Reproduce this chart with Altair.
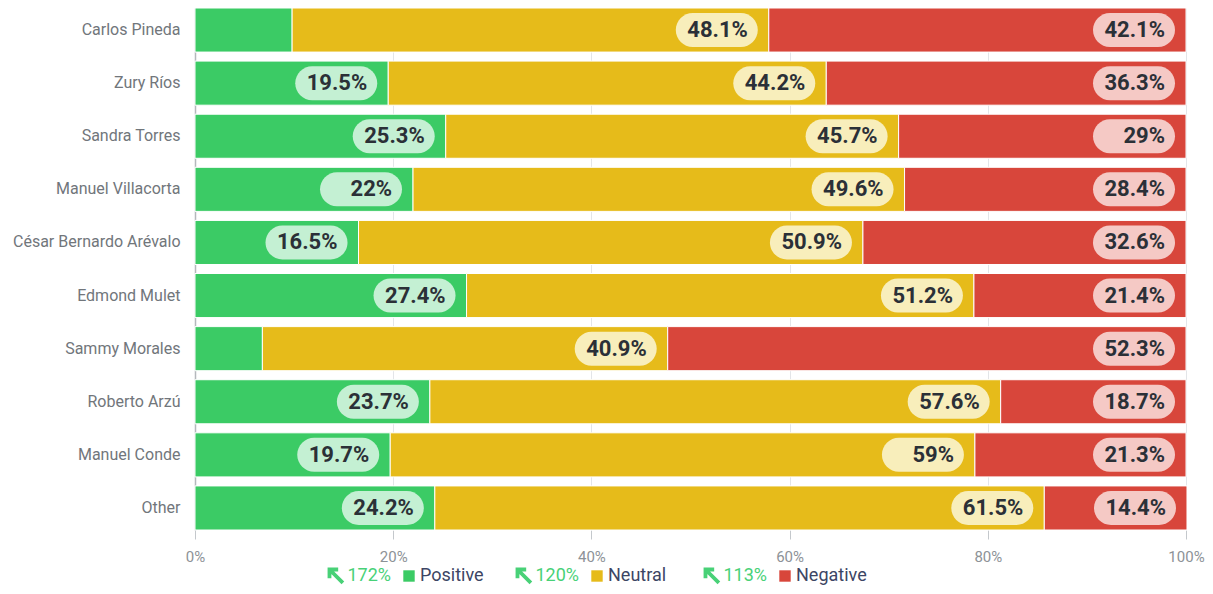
import altair as alt
import pandas as pd

# ---- data ----
names = ["Carlos Pineda", "Zury Ríos", "Sandra Torres", "Manuel Villacorta",
         "César Bernardo Arévalo", "Edmond Mulet", "Sammy Morales",
         "Roberto Arzú", "Manuel Conde", "Other"]
positive = [9.8, 19.5, 25.3, 22.0, 16.5, 27.4, 6.8, 23.7, 19.7, 24.2]
neutral = [48.1, 44.2, 45.7, 49.6, 50.9, 51.2, 40.9, 57.6, 59.0, 61.5]
negative = [42.1, 36.3, 29.0, 28.4, 32.6, 21.4, 52.3, 18.7, 21.3, 14.4]
series = ["Positive", "Neutral", "Negative"]
legend_changes = ["172%", "120%", "113%"]
x_ticks = [0, 20, 40, 60, 80, 100]

# ---- styles ----
bar_colors = ["#3bcb65", "#e6bb1a", "#d8463b"]
pill_colors = ["#c4f0d3", "#f8eebb", "#f5c9c5"]
green_text = "#48d177"

rows = []
for i, n in enumerate(names):
    start = 0.0
    for s, vals in zip(series, [positive, neutral, negative]):
        v = vals[i]
        rows.append({"name": n, "series": s, "start": start, "end": start + v,
                     "value": v, "label": f"{v:g}%", "show": v >= 12})
        start += v
df = pd.DataFrame(rows)
lab = df[df["show"]]

# pill shape: rounded rectangle drawn left of the anchor point (unit = 100 px)
def pill_path(left, right, half_h):
    r = half_h
    k = 0.5523 * r
    L, R, T, B = left / 100, right / 100, -half_h / 100, half_h / 100
    r /= 100; k /= 100
    return (f"M {L + r} {T} L {R - r} {T} "
            f"C {R - r + k} {T} {R} {-k} {R} 0 "
            f"C {R} {k} {R - r + k} {B} {R - r} {B} "
            f"L {L + r} {B} "
            f"C {L + r - k} {B} {L} {k} {L} 0 "
            f"C {L} {-k} {L + r - k} {T} {L + r} {T} Z")

PILL = pill_path(-93, -11, 17)
ARROW = "M -0.9 0.3 L -0.9 -0.9 L 0.3 -0.9 M -0.9 -0.9 L 0.95 0.95"

W, H = 991, 522

y_enc = alt.Y("name:N", sort=names, title=None,
              scale=alt.Scale(paddingInner=0.17, paddingOuter=0),
              axis=alt.Axis(ticks=False, labelPadding=15, labelFontSize=16,
                            labelColor="#71767b", domain=True,
                            domainColor="#b4b8bc", domainWidth=1.5, grid=False))
x_scale = alt.Scale(domain=[0, 100], nice=False)

bars = alt.Chart(df).mark_bar(stroke="white", strokeWidth=1).encode(
    x=alt.X("start:Q", scale=x_scale, title=None,
            axis=alt.Axis(values=x_ticks, labelExpr="datum.value + '%'",
                          labelFlush=False, domain=False, tickSize=9,
                          tickColor="#c4c8cc", labelPadding=10,
                          labelFontSize=15, labelColor="#8d9297",
                          grid=True, gridColor="#e3e5e8")),
    x2="end:Q",
    y=y_enc,
    color=alt.Color("series:N", scale=alt.Scale(domain=series, range=bar_colors),
                    legend=None),
)

pills = alt.Chart(lab).mark_point(shape=PILL, filled=True, opacity=1,
                                  strokeWidth=0, size=40000).encode(
    x=alt.X("end:Q", scale=x_scale),
    y=alt.Y("name:N", sort=names),
    fill=alt.Fill("series:N", scale=alt.Scale(domain=series, range=pill_colors),
                  legend=None),
)

texts = alt.Chart(lab).mark_text(align="right", baseline="middle", dx=-21,
                                 fontSize=22, fontWeight="bold",
                                 color="#2b3037").encode(
    x=alt.X("end:Q", scale=x_scale),
    y=alt.Y("name:N", sort=names),
    text="label:N",
)

main = alt.layer(bars, pills, texts)

leg_df = pd.DataFrame({"series": series, "change": legend_changes})
leg_x = alt.X("series:N", sort=series, axis=None,
              scale=alt.Scale(type="point", domain=series, range=[214, 590],
                              padding=0))
leg_y = alt.value(568)

leg_arrow = alt.Chart(leg_df).mark_point(shape=ARROW, filled=False, opacity=1,
                                         strokeWidth=3.8, color=green_text,
                                         size=210, xOffset=-73,
                                         strokeCap="butt",
                                         strokeJoin="miter").encode(
    x=leg_x, y=leg_y)
leg_pct = alt.Chart(leg_df).mark_text(align="right", baseline="middle", dx=-18,
                                      fontSize=18, color=green_text).encode(
    x=leg_x, y=leg_y, text="change:N")
leg_sq = alt.Chart(leg_df).mark_point(shape="square", filled=True, opacity=1,
                                      size=130).encode(
    x=leg_x, y=leg_y,
    color=alt.Color("series:N", scale=alt.Scale(domain=series, range=bar_colors),
                    legend=None))
leg_lab = alt.Chart(leg_df).mark_text(align="left", baseline="middle", dx=11,
                                      fontSize=18, color="#3c4564").encode(
    x=leg_x, y=leg_y, text="series:N")

legend = alt.layer(leg_arrow, leg_pct, leg_sq, leg_lab)

chart = alt.layer(main, legend).resolve_scale(x="independent").properties(
    width=W, height=H,
    autosize=alt.AutoSizeParams(type="none"),
    padding={"left": 187, "top": 0, "right": 19, "bottom": 56},
).configure(font="Roboto").configure_view(stroke=None)

chart.save("out.html", embed_options={"renderer": "svg", "actions": False})
